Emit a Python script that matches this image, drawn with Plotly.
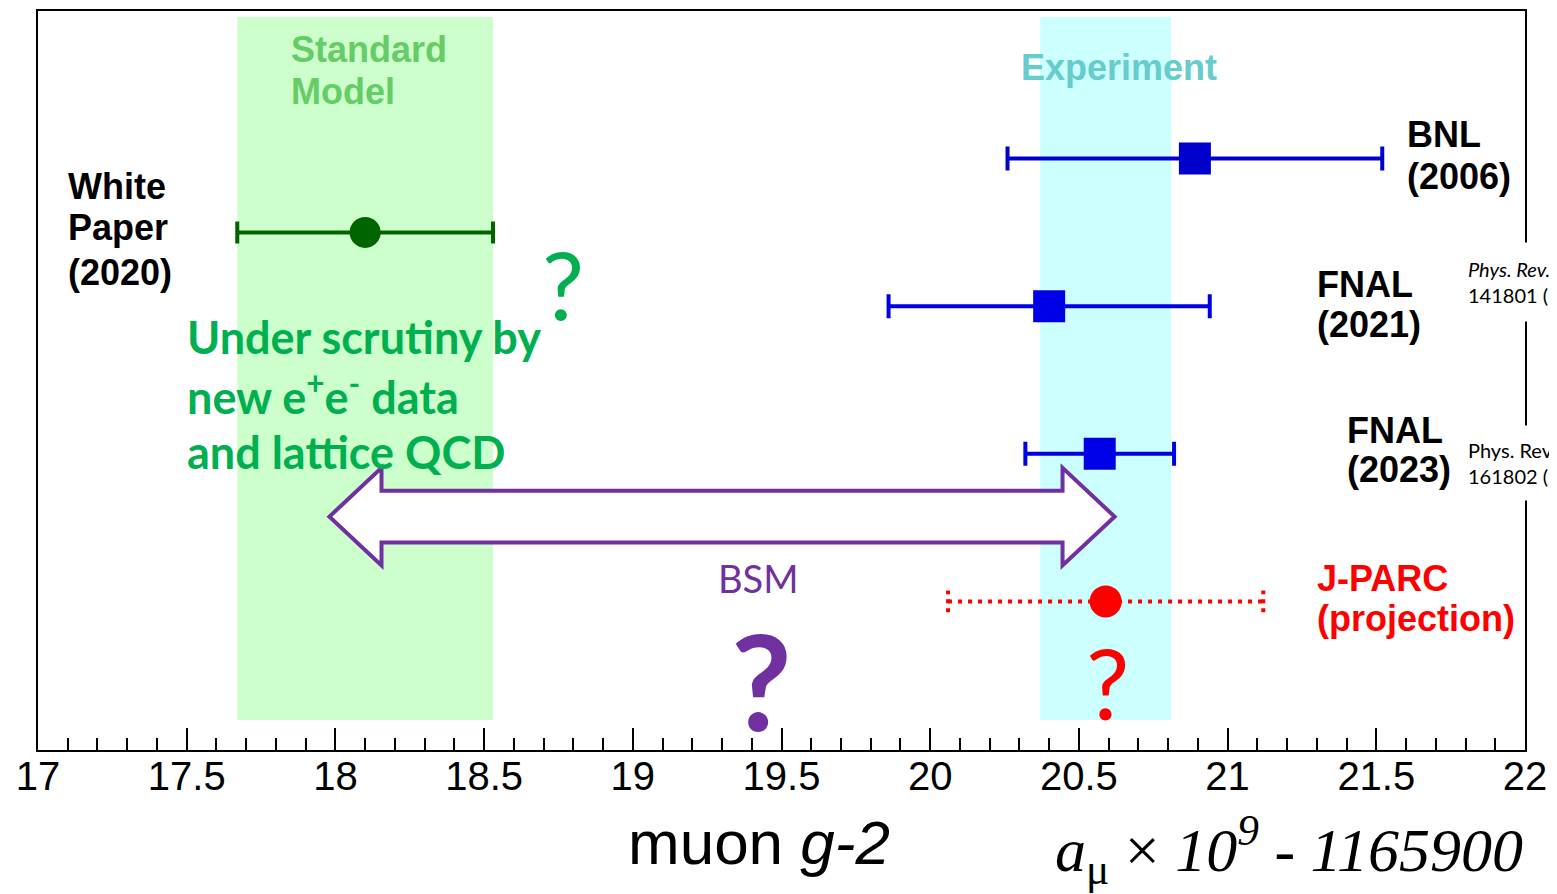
import plotly.graph_objects as go

# ---------------- data ----------------
x_min, x_max = 17.0, 22.0
major_ticks = [17, 17.5, 18, 18.5, 19, 19.5, 20, 20.5, 21, 21.5, 22]
tick_text = ["17", "17.5", "18", "18.5", "19", "19.5", "20", "20.5", "21", "21.5", "22"]

exp_names = ["BNL (2006)", "FNAL (2021)", "FNAL (2023)"]
exp_values = [20.89, 20.40, 20.57]
exp_errors = [0.63, 0.54, 0.25]
exp_rows = [593, 445, 297]
exp_colors = ["#0000cc", "#0000e6", "#0000e6"]

wp_value = [18.10]
wp_error = [0.43]
wp_row = [519]

jparc_value = [20.59]
jparc_error = [0.53]
jparc_row = [149]

sm_band = [18.10, 0.43]      # centre, half width
exp_band = [20.59, 0.22]     # world average centre, half width
band_rows = [30, 735]

bsm_tips = [17.98, 20.62]
bsm_heads = [18.155, 20.445]
bsm_row = 234

# ---------------- figure ----------------
fig = go.Figure()

for name, v, e, r, c in zip(exp_names, exp_values, exp_errors, exp_rows, exp_colors):
    fig.add_trace(go.Scatter(
        x=[v], y=[r], mode="markers",
        marker=dict(symbol="square", size=32, color=c),
        error_x=dict(type="data", array=[e], color=c, thickness=4, width=12),
        showlegend=False, name=name))

fig.add_trace(go.Scatter(
    x=wp_value, y=wp_row, mode="markers",
    marker=dict(symbol="circle", size=31, color="#006400"),
    error_x=dict(type="data", array=wp_error, color="#006400", thickness=4, width=11),
    showlegend=False, name="White Paper"))

jl = [jparc_value[0] - jparc_error[0], jparc_value[0] + jparc_error[0]]
fig.add_trace(go.Scatter(x=jl, y=[jparc_row[0]] * 2, mode="lines",
                         line=dict(color="#ff0000", width=4, dash="4px,6px"), showlegend=False))
for xe in jl:
    fig.add_trace(go.Scatter(x=[xe, xe], y=[jparc_row[0] - 11, jparc_row[0] + 11], mode="lines",
                             line=dict(color="#ff0000", width=4, dash="4px,5px"), showlegend=False))
fig.add_trace(go.Scatter(x=jparc_value, y=jparc_row, mode="markers",
                         marker=dict(symbol="circle", size=32, color="#ff0000"), showlegend=False))

shapes = []
shapes.append(dict(type="rect", xref="x", yref="y",
                   x0=sm_band[0] - sm_band[1], x1=sm_band[0] + sm_band[1],
                   y0=band_rows[0], y1=band_rows[1],
                   fillcolor="#ccffcc", line=dict(width=0), layer="below"))
shapes.append(dict(type="rect", xref="x", yref="y",
                   x0=exp_band[0] - exp_band[1], x1=exp_band[0] + exp_band[1],
                   y0=band_rows[0], y1=band_rows[1],
                   fillcolor="#ccffff", line=dict(width=0), layer="below"))

ys_t, ys_b, yh_t, yh_b = bsm_row + 26, bsm_row - 26, bsm_row + 49, bsm_row - 49
path = (f"M {bsm_tips[0]},{bsm_row} L {bsm_heads[0]},{yh_t} L {bsm_heads[0]},{ys_t} "
        f"L {bsm_heads[1]},{ys_t} L {bsm_heads[1]},{yh_t} L {bsm_tips[1]},{bsm_row} "
        f"L {bsm_heads[1]},{yh_b} L {bsm_heads[1]},{ys_b} L {bsm_heads[0]},{ys_b} "
        f"L {bsm_heads[0]},{yh_b} Z")
shapes.append(dict(type="path", xref="x", yref="y", path=path, fillcolor="white",
                   line=dict(color="#7030a0", width=4), layer="below"))

# page offset of the figure (browser body margin)
OFF = 8
FIG_W, FIG_H = 1557 - OFF, 894 - OFF
L, R, T, B = 38, 1525, 9, 750        # plot area in page pixels
W_ = R - L
H_ = B - T


def px(p):
    return (p - L) / W_


def py(p):
    return (B - p) / H_


ann = []


def text(t, x, y, size, color="black", family="Liberation Sans", bold=False,
         anchor="left", bg=None, pad=0):
    if bold:
        t = f"<b>{t}</b>"
    d = dict(text=t, x=px(x), y=py(y), xref="paper", yref="paper",
             xanchor=anchor, yanchor="middle", showarrow=False, align="left",
             font=dict(size=size, color=color, family=family))
    if bg:
        d["bgcolor"] = bg
        d["borderpad"] = pad
    ann.append(d)


text("Standard", 289, 48, 36, "#66cc66", bold=True)
text("Model", 289, 90, 36, "#66cc66", bold=True)
text("Experiment", 1019, 66, 36, "#66cccc", bold=True)

text("White", 66, 185, 36, bold=True)
text("Paper", 66, 226, 36, bold=True)
text("(2020)", 66, 271, 36, bold=True)
text("BNL", 1405, 133, 36, bold=True)
text("(2006)", 1405, 175, 36, bold=True)
text("FNAL", 1315, 283, 36, bold=True)
text("(2021)", 1315, 323, 36, bold=True)
text("FNAL", 1345, 430, 36, bold=True)
text("(2023)", 1345, 469, 36, bold=True)
text("J-PARC", 1315, 578, 36, "#ff0000", bold=True)
text("(projection)", 1315, 618, 36, "#ff0000", bold=True)

# references (cut at the right edge, as in the original)
text("<i>Phys. Rev. Lett.</i> <b>126</b>,<br>141801 (2021)", 1467 - 14, 281, 20, family="Lato",
     bg="white", pad=14)
text("Phys. Rev. Lett. <b>131</b>,<br>161802 (2023)", 1467 - 12, 462, 20, family="Lato",
     bg="white", pad=12)

text("Under scrutiny by", 185, 336, 45, "#00b050", family="Lato", bold=True)
text("new e<sup>+</sup>e<sup>-</sup> data", 185, 393, 45, "#00b050", family="Lato", bold=True)
text("and lattice QCD", 185, 451, 45, "#00b050", family="Lato", bold=True)

text("?", 563, 282, 94, "#00b050", family="Lato", anchor="center")
text("BSM", 758, 578, 38, "#7030a0", family="Lato", anchor="center")
text("?", 761, 680, 132, "#7030a0", family="Lato", bold=True, anchor="center")
text("?", 1107, 682, 97, "#ff0000", family="Lato", anchor="center")

text("muon <i>g-2</i>", 626, 843, 62, anchor="left")
text("<i>a</i><sub>μ</sub> × <i>10<sup>9</sup> - 1165900</i>", 1525, 850, 62,
     family="Liberation Serif", anchor="right")

fig.update_layout(
    width=FIG_W, height=FIG_H,
    margin=dict(l=L - OFF, r=FIG_W - (R - OFF), t=T - OFF, b=FIG_H - (B - OFF)),
    paper_bgcolor="white", plot_bgcolor="white",
    shapes=shapes, annotations=ann, showlegend=False,
    xaxis=dict(range=[x_min, x_max], tickvals=major_ticks, ticktext=tick_text,
               ticks="inside", ticklen=22, tickwidth=2, tickcolor="black",
               ticklabelstandoff=-10,
               minor=dict(dtick=0.1, ticks="inside", ticklen=12, tickwidth=2, tickcolor="black"),
               showline=True, linewidth=2, linecolor="black", mirror=True,
               showgrid=False, zeroline=False,
               tickfont=dict(family="Liberation Sans", size=40, color="black")),
    yaxis=dict(range=[0, H_], showline=True, linewidth=2, linecolor="black", mirror=True,
               showticklabels=False, ticks="", showgrid=False, zeroline=False),
)

fig.write_html("out.html")
